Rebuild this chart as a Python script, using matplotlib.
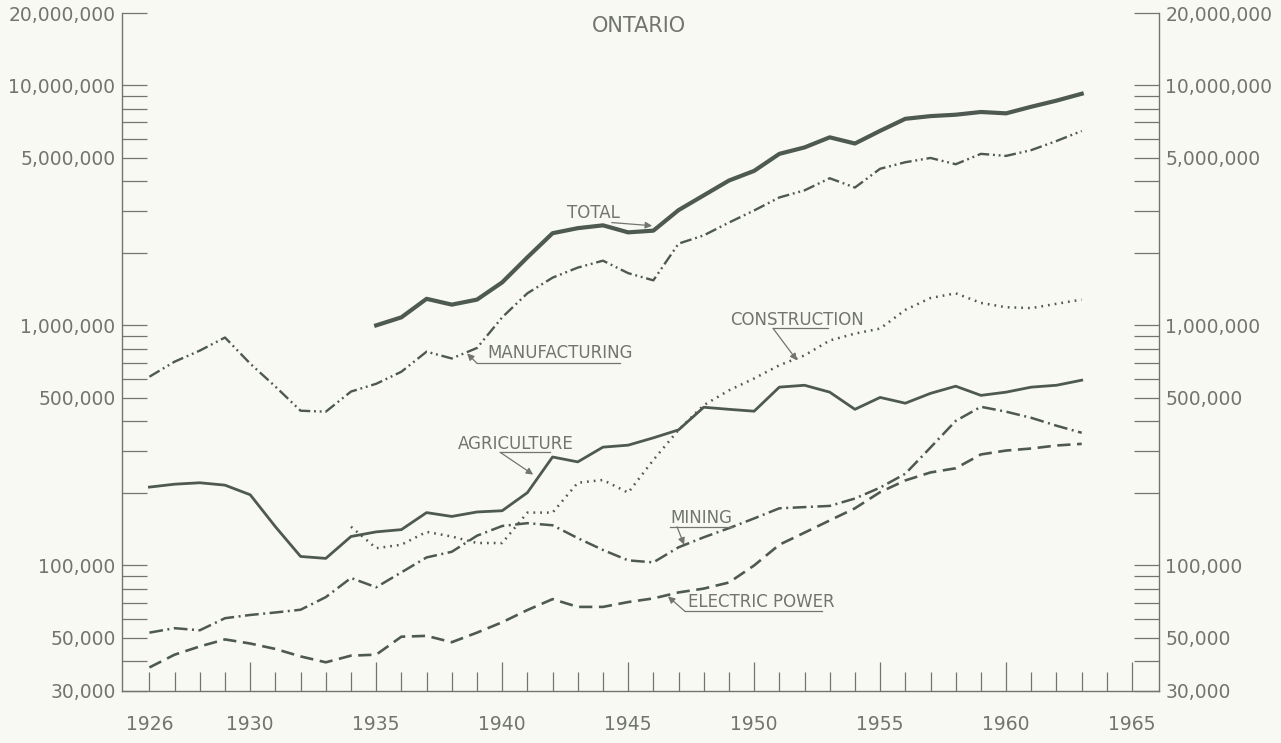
import numpy as np
import matplotlib.pyplot as plt
from matplotlib.ticker import FixedLocator, FuncFormatter, NullFormatter

# values (dollars, log scale)
years = np.arange(1926, 1964)
total_years = np.arange(1935, 1964)
construction_years = np.arange(1934, 1964)

total = [1.00e6, 1.08e6, 1.29e6, 1.22e6, 1.28e6, 1.51e6, 1.92e6, 2.42e6, 2.54e6, 2.61e6,
         2.44e6, 2.48e6, 3.02e6, 3.48e6, 4.01e6, 4.40e6, 5.18e6, 5.51e6, 6.07e6, 5.72e6,
         6.46e6, 7.25e6, 7.44e6, 7.54e6, 7.74e6, 7.64e6, 8.14e6, 8.63e6, 9.22e6]

manufacturing = [611e3, 706e3, 785e3, 890e3, 693e3, 556e3, 441e3, 437e3, 530e3, 571e3,
                 641e3, 777e3, 728e3, 805e3, 1.08e6, 1.36e6, 1.58e6, 1.74e6, 1.86e6, 1.65e6,
                 1.54e6, 2.19e6, 2.37e6, 2.68e6, 3.01e6, 3.41e6, 3.65e6, 4.10e6, 3.75e6, 4.49e6,
                 4.78e6, 4.98e6, 4.69e6, 5.18e6, 5.08e6, 5.37e6, 5.86e6, 6.45e6]

construction = [145e3, 118e3, 122e3, 138e3, 132e3, 124e3, 124e3, 166e3, 166e3, 221e3,
                227e3, 201e3, 275e3, 367e3, 465e3, 536e3, 601e3, 682e3, 750e3, 865e3,
                924e3, 970e3, 1.16e6, 1.30e6, 1.36e6, 1.24e6, 1.19e6, 1.18e6, 1.23e6, 1.28e6]

agriculture = [212e3, 218e3, 221e3, 216e3, 197e3, 145e3, 109e3, 107e3, 132e3, 138e3,
               141e3, 166e3, 160e3, 167e3, 169e3, 201e3, 283e3, 270e3, 311e3, 317e3,
               340e3, 367e3, 456e3, 447e3, 439e3, 553e3, 563e3, 527e3, 447e3, 501e3,
               474e3, 521e3, 558e3, 511e3, 527e3, 553e3, 563e3, 591e3]

mining = [52.5e3, 54.8e3, 53.7e3, 60.3e3, 62.2e3, 63.7e3, 65.4e3, 73.8e3, 88.7e3, 81.1e3,
          93.6e3, 108e3, 114e3, 133e3, 146e3, 150e3, 147e3, 130e3, 116e3, 105e3,
          103e3, 119e3, 131e3, 143e3, 157e3, 173e3, 175e3, 177e3, 190e3, 211e3,
          241e3, 310e3, 400e3, 458e3, 437e3, 412e3, 382e3, 357e3]

electric_power = [37.6e3, 42.5e3, 46.0e3, 49.2e3, 47.3e3, 44.9e3, 41.8e3, 39.5e3, 42.1e3, 42.5e3,
                  50.5e3, 50.9e3, 47.9e3, 52.5e3, 58.0e3, 65.2e3, 72.4e3, 67.2e3, 67.2e3, 70.4e3,
                  72.9e3, 77.2e3, 80.1e3, 84.9e3, 100e3, 122e3, 137e3, 154e3, 173e3, 202e3,
                  226e3, 244e3, 254e3, 290e3, 301e3, 307e3, 316e3, 321e3]

y_labels = [30000, 50000, 100000, 500000, 1000000, 5000000, 10000000, 20000000]
y_minor = [40000, 60000, 70000, 80000, 90000,
           200000, 300000, 400000, 600000, 700000, 800000, 900000,
           2000000, 3000000, 4000000, 6000000, 7000000, 8000000, 9000000]

line_color = "#4e5951"
text_color = "#71756e"
bg = "#f8f9f2"

fig = plt.figure(figsize=(12.81, 7.43), dpi=100, facecolor=bg)
ax = fig.add_axes([0.095, 0.070, 0.8098, 0.9125])
ax.set_facecolor(bg)
ax.set_yscale("log")
ax.set_xlim(1924.9, 1966.07)
ax.set_ylim(30000, 20000000)

ax.spines["top"].set_visible(False)
for s in ("left", "right", "bottom"):
    ax.spines[s].set_color(text_color)
    ax.spines[s].set_linewidth(1.0)

# series
ax.plot(total_years, total, color=line_color, lw=3.0, solid_joinstyle="round")
ax.plot(years, manufacturing, color=line_color, lw=1.7,
        ls=(0, (5, 1.6, 0.8, 1.6, 0.8, 1.6)))
ax.plot(construction_years, construction, color=line_color, lw=1.8, ls=(0, (0.7, 2.0)))
ax.plot(years, agriculture, color=line_color, lw=2.0, solid_joinstyle="round")
ax.plot(years, mining, color=line_color, lw=1.8, ls=(0, (5.5, 1.8, 0.8, 1.8)))
ax.plot(years, electric_power, color=line_color, lw=1.9, ls=(0, (5, 2.5)))

# y axis, labels on both sides, ticks inward
ax.yaxis.set_major_locator(FixedLocator(y_labels))
ax.yaxis.set_minor_locator(FixedLocator(y_minor))
ax.yaxis.set_major_formatter(FuncFormatter(lambda v, p: "{:,}".format(int(round(v)))))
ax.yaxis.set_minor_formatter(NullFormatter())
ax.tick_params(axis="y", which="both", direction="in", length=18, width=0.9,
               color=text_color, left=True, right=True, labelleft=True, labelright=True,
               labelsize=13.5, labelcolor=text_color, pad=4.5)

# x axis, a tick every year, longer every five
ax.xaxis.set_major_locator(FixedLocator(range(1930, 1966, 5)))
ax.xaxis.set_minor_locator(FixedLocator([y for y in range(1926, 1966) if y % 5]))
ax.xaxis.set_major_formatter(FuncFormatter(lambda v, p: "%d" % v))
ax.xaxis.set_minor_formatter(FuncFormatter(lambda v, p: "1926" if round(v) == 1926 else ""))
ax.tick_params(axis="x", which="major", direction="in", length=21, width=0.9,
               color=text_color, labelsize=13.5, labelcolor=text_color, pad=17)
ax.tick_params(axis="x", which="minor", direction="in", length=14, width=0.9,
               color=text_color, labelsize=13.5, labelcolor=text_color, pad=17)

fig.text(639 / 1281, 1 - 26 / 743, "ONTARIO", ha="center", va="center",
         fontsize=15, color=text_color)

# series labels: text, underline, arrow to the line
labels = [
    ("TOTAL", (1942.57, 2.93e6), None, (1944.35, 2.68e6), (1945.95, 2.60e6)),
    ("MANUFACTURING", (1939.40, 764e3), (1939.0, 1944.68, 695e3), (1939.0, 695e3), (1938.61, 764e3)),
    ("CONSTRUCTION", (1949.05, 1.05e6), (1950.75, 1952.93, 0.972e6), (1950.75, 0.972e6), (1951.70, 715e3)),
    ("AGRICULTURE", (1938.25, 322e3), (1939.92, 1941.90, 296e3), (1939.92, 296e3), (1941.23, 239e3)),
    ("MINING", (1946.66, 158e3), (1946.66, 1949.16, 145e3), (1946.94, 145e3), (1947.22, 122e3)),
    ("ELECTRIC POWER", (1947.38, 70.1e3), (1947.26, 1952.69, 64.3e3), (1947.26, 64.3e3), (1946.58, 74.3e3)),
]
for name, pos, ul, start, tip in labels:
    ax.text(pos[0], pos[1], name, ha="left", va="center", fontsize=12, color=text_color)
    if ul is not None:
        ax.plot([ul[0], ul[1]], [ul[2], ul[2]], color=text_color, lw=0.9)
    ax.annotate("", xy=tip, xytext=start,
                arrowprops=dict(arrowstyle="-|>", color=text_color, lw=0.9,
                                mutation_scale=10, shrinkA=0, shrinkB=0))

fig.savefig("out.png", dpi=100, facecolor=bg)
